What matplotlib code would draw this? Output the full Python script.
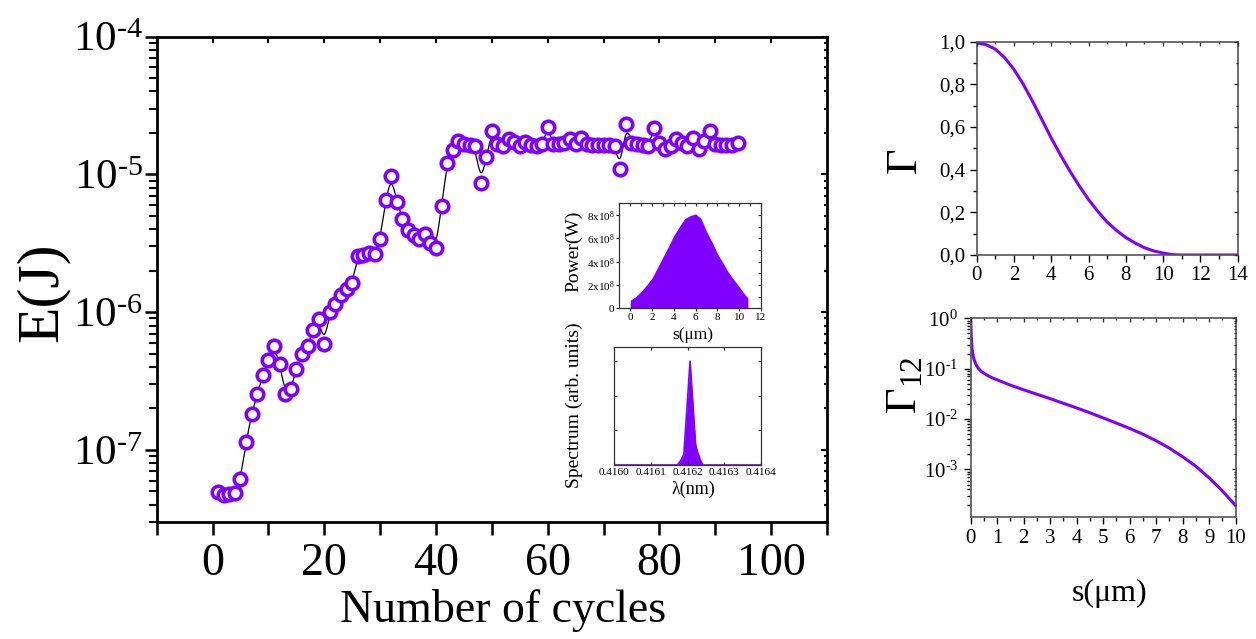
import numpy as np
import matplotlib
matplotlib.use('Agg')
import matplotlib.pyplot as plt
from matplotlib.ticker import FixedLocator, NullFormatter, LogLocator, FuncFormatter, MultipleLocator

plt.rcParams['font.family'] = ['Liberation Serif', 'DejaVu Serif']
plt.rcParams['mathtext.fontset'] = 'custom'
plt.rcParams['mathtext.rm'] = 'Liberation Serif'
plt.rcParams['mathtext.it'] = 'Liberation Serif:italic'
plt.rcParams['mathtext.bf'] = 'Liberation Serif:bold'

PURPLE = '#8000ff'

# ---------------- data ----------------
cycles = list(range(1, 95))
energy = [4.95e-8, 4.74e-8, 4.82e-8, 4.90e-8, 6.18e-8, 1.14e-7, 1.82e-7, 2.54e-7, 3.50e-7, 4.53e-7,
          5.71e-7, 4.24e-7, 2.56e-7, 2.75e-7, 3.84e-7, 4.98e-7, 5.71e-7, 7.38e-7, 8.91e-7, 5.91e-7,
          1.00e-6, 1.15e-6, 1.33e-6, 1.47e-6, 1.62e-6, 2.56e-6, 2.62e-6, 2.71e-6, 2.63e-6, 3.38e-6,
          6.56e-6, 9.77e-6, 6.34e-6, 4.76e-6, 3.92e-6, 3.61e-6, 3.38e-6, 3.72e-6, 3.20e-6, 2.94e-6,
          5.94e-6, 1.21e-5, 1.50e-5, 1.75e-5, 1.65e-5, 1.63e-5, 1.61e-5, 8.65e-6, 1.33e-5, 2.06e-5,
          1.66e-5, 1.61e-5, 1.82e-5, 1.72e-5, 1.61e-5, 1.72e-5, 1.63e-5, 1.61e-5, 1.66e-5, 2.20e-5,
          1.66e-5, 1.66e-5, 1.70e-5, 1.80e-5, 1.66e-5, 1.84e-5, 1.66e-5, 1.63e-5, 1.63e-5, 1.63e-5,
          1.63e-5, 1.61e-5, 1.09e-5, 2.33e-5, 1.70e-5, 1.66e-5, 1.63e-5, 1.61e-5, 2.18e-5, 1.70e-5,
          1.52e-5, 1.61e-5, 1.82e-5, 1.70e-5, 1.62e-5, 1.85e-5, 1.52e-5, 1.75e-5, 2.06e-5, 1.66e-5,
          1.63e-5, 1.63e-5, 1.63e-5, 1.70e-5]

main_xticks = [0, 20, 40, 60, 80, 100]
main_yticks = [1e-7, 1e-6, 1e-5, 1e-4]

gamma_s = [0, 0.5, 1, 1.5, 2, 2.5, 3, 3.5, 4, 4.5, 5, 5.5, 6, 6.5, 7, 7.5, 8, 8.5, 9, 9.5, 10, 10.5, 11, 14]
gamma_v = [0.995, 0.986, 0.965, 0.925, 0.870, 0.800, 0.720, 0.634, 0.548, 0.468, 0.393, 0.324, 0.260,
           0.204, 0.154, 0.115, 0.082, 0.056, 0.034, 0.019, 0.009, 0.0015, 0.0, 0.0]

g12_s = [0, 0.02, 0.05, 0.1, 0.15, 0.2, 0.3, 0.4, 0.6, 0.8, 1.0, 1.5, 2, 2.5, 3, 3.5, 4, 4.5, 5, 5.5,
         6, 6.5, 7, 7.5, 8, 8.5, 9, 9.5, 10]
g12_v = [1.0, 0.45, 0.25, 0.17, 0.14, 0.12, 0.10, 0.088, 0.075, 0.066, 0.060, 0.047, 0.038, 0.031,
         0.0254, 0.0205, 0.0166, 0.0133, 0.0105, 0.0083, 0.0065, 0.0050, 0.0037, 0.00263, 0.00178,
         0.00115, 0.000676, 0.000372, 0.00019]

pow_s = [0, 0.01, 0.5, 1, 1.5, 2, 2.5, 3, 3.5, 4, 4.5, 5, 5.5, 6, 6.5, 7, 7.5, 8, 8.5, 9, 9.5, 10,
         10.5, 10.79, 10.8]
pow_v = [0, 0.7, 1.0, 1.45, 2.0, 2.6, 3.5, 4.4, 5.3, 6.25, 7.0, 7.7, 7.95, 8.1, 7.7, 6.6, 5.7, 4.7,
         3.9, 3.1, 2.45, 1.85, 1.2, 0.9, 0]
pow_ticks = [0, 2, 4, 6, 8]
pow_ticklabels = ['0', '2x10$^8$', '4x10$^8$', '6x10$^8$', '8x10$^8$']

spec_l = [0.41600, 0.416172, 0.41618, 0.41619, 0.416207, 0.416222, 0.416228, 0.416236, 0.416242, 0.41640]
spec_v = [0.0, 0.0, 0.1, 0.3, 3.0, 0.6, 0.35, 0.12, 0.0, 0.0]
spec_xticks = [0.4160, 0.4161, 0.4162, 0.4163, 0.4164]


def bspline(x, y, n_per=14):
    P = np.column_stack([x, y]).astype(float)
    P = np.vstack([P[0], P[0], P, P[-1], P[-1]])
    t = np.linspace(0, 1, n_per, endpoint=False)
    b0 = (1 - t) ** 3 / 6
    b1 = (3 * t ** 3 - 6 * t ** 2 + 4) / 6
    b2 = (-3 * t ** 3 + 3 * t ** 2 + 3 * t + 1) / 6
    b3 = t ** 3 / 6
    segs = []
    for i in range(len(P) - 3):
        segs.append(b0[:, None] * P[i] + b1[:, None] * P[i + 1] + b2[:, None] * P[i + 2] + b3[:, None] * P[i + 3])
    segs.append(P[-1][None])
    return np.vstack(segs)


def pow10_label(v, pos):
    e = int(round(np.log10(v)))
    if e < 0:
        return '10$^{\u2010%d}$' % (-e)
    return '10$^{%d}$' % e


W, H = 1256, 639
fig = plt.figure(figsize=(W / 100, H / 100), dpi=100)


def rect(l, r, t, b):
    return [l / W, 1 - b / H, (r - l) / W, (b - t) / H]


def mirror(ax, xmaj, xmin, ymaj, ymin, logy=False, color='black', length=3, width=1.0):
    tx = ax.twiny()
    tx.set_xlim(ax.get_xlim())
    tx.xaxis.set_major_locator(FixedLocator(xmaj))
    if xmin is not None:
        tx.xaxis.set_minor_locator(FixedLocator(xmin))
    tx.tick_params(axis='x', which='both', direction='in', labeltop=False, length=length, width=width, color=color)
    tx.tick_params(axis='x', which='minor', length=length * 0.6)
    for s in tx.spines.values():
        s.set_visible(False)
    ty = ax.twinx()
    if logy:
        ty.set_yscale('log')
    ty.set_ylim(ax.get_ylim())
    ty.yaxis.set_major_locator(FixedLocator(ymaj))
    if ymin is not None:
        ty.yaxis.set_minor_locator(FixedLocator(ymin))
    else:
        ty.yaxis.set_minor_locator(FixedLocator([]))
    ty.yaxis.set_minor_formatter(NullFormatter())
    ty.tick_params(axis='y', which='both', direction='in', labelright=False, length=length, width=width, color=color)
    ty.tick_params(axis='y', which='minor', length=length * 0.6)
    for s in ty.spines.values():
        s.set_visible(False)


# ---------------- main axes ----------------
ax = fig.add_axes(rect(156.7, 827, 36.6, 522))
ax.set_yscale('log')
ax.set_xlim(-10, 110)
ax.set_ylim(3e-8, 1e-4)
curve = bspline(cycles, np.log10(energy))
ax.plot(curve[:, 0], 10 ** curve[:, 1], color='black', lw=0.9, zorder=2)
ax.plot(cycles, energy, ls='none', marker='o', ms=9, mew=2.6, mec=PURPLE, mfc='white', zorder=3)
ax.xaxis.set_major_locator(FixedLocator(main_xticks))
ax.xaxis.set_minor_locator(MultipleLocator(10))
ax.yaxis.set_major_locator(FixedLocator(main_yticks))
ax.yaxis.set_major_formatter(FuncFormatter(pow10_label))
ax.yaxis.set_minor_locator(LogLocator(base=10, subs=np.arange(2, 10)))
ax.yaxis.set_minor_formatter(NullFormatter())
ax.tick_params(axis='both', which='major', direction='out', length=9, width=1.8, labelsize=33, pad=6)
ax.tick_params(axis='y', which='major', labelsize=31, pad=1)
ax.tick_params(axis='both', which='minor', direction='out', length=6, width=1.5)
ax.tick_params(axis='x', which='minor', length=9, width=1.8)
for s in ax.spines.values():
    s.set_linewidth(2.0)
mirror(ax, main_xticks + [-10, 10, 30, 50, 70, 90, 110], None, main_yticks,
       [m * 10.0 ** e for e in range(-8, -4) for m in range(2, 10)], logy=True, length=4, width=1.5)
fig.text(503 / W, 1 - 610 / H, 'Number of cycles', ha='center', va='center', fontsize=33)
fig.text(43 / W, 1 - 292 / H, 'E(J)', ha='center', va='center', fontsize=43, rotation=90)

# ---------------- Power inset ----------------
axp = fig.add_axes(rect(619.3, 761, 202.7, 308.3))
axp.fill_between(pow_s, pow_v, 0, color=PURPLE, lw=0)
axp.set_xlim(-1, 12)
axp.set_ylim(0, 9.06)
axp.set_xticks(range(0, 13, 2))
axp.set_yticks(pow_ticks)
axp.set_yticklabels(pow_ticklabels)
axp.tick_params(axis='both', which='major', direction='out', length=2.5, width=0.8, labelsize=8, pad=1)
for s in axp.spines.values():
    s.set_linewidth(0.9)
    s.set_color('#333333')
mirror(axp, list(range(-1, 13)), None, [0, 1, 2, 3, 4, 5, 6, 7, 8, 9], None, length=2.5, width=0.8, color='#333333')
fig.text(574 / W, 1 - 251 / H, 'Power(W)', ha='center', va='center', fontsize=14, rotation=90)
fig.text(693 / W, 1 - 335 / H, 's(μm)', ha='center', va='center', fontsize=12.5)

# ---------------- Spectrum inset ----------------
axs = fig.add_axes(rect(614, 761, 347.3, 465))
axs.fill_between(spec_l, spec_v, 0, color=PURPLE, lw=0)
axs.plot(spec_l, spec_v, color=PURPLE, lw=1.2)
axs.set_xlim(0.4160, 0.4164)
axs.set_ylim(0, 3.4)
axs.set_xticks(spec_xticks)
axs.set_xticklabels(['%.4f' % v for v in spec_xticks])
axs.set_yticks([0, 1, 2, 3])
axs.set_yticklabels([])
axs.tick_params(axis='both', which='major', direction='in', length=2.5, width=0.8, labelsize=8, pad=2)
for s in axs.spines.values():
    s.set_linewidth(0.9)
    s.set_color('#333333')
mirror(axs, spec_xticks, None, [0, 1, 2, 3], None, length=2.5, width=0.8, color='#333333')
fig.text(574 / W, 1 - 405 / H, 'Spectrum (arb. units)', ha='center', va='center', fontsize=14, rotation=90)
fig.text(693 / W, 1 - 489 / H, 'λ(nm)', ha='center', va='center', fontsize=13)

# ---------------- Top-right: Gamma ----------------
axg = fig.add_axes(rect(976.7, 1237.7, 41.7, 255))
axg.plot(gamma_s, gamma_v, color=PURPLE, lw=2.2)
axg.set_xlim(0, 14)
axg.set_ylim(0, 1)
axg.set_xticks(range(0, 15, 2))
axg.xaxis.set_minor_locator(MultipleLocator(1))
axg.set_yticks([0, 0.2, 0.4, 0.6, 0.8, 1.0])
axg.yaxis.set_minor_locator(MultipleLocator(0.1))
axg.yaxis.set_major_formatter(FuncFormatter(lambda v, p: ('%.1f' % v).replace('.', ',')))
axg.tick_params(axis='both', which='major', direction='out', length=5, width=1.0, labelsize=15, pad=3)
axg.tick_params(axis='both', which='minor', direction='out', length=3, width=1.0)
for s in axg.spines.values():
    s.set_linewidth(1.2)
    s.set_color('#555555')
mirror(axg, list(range(0, 15, 2)), list(range(1, 15, 2)), [0, 0.2, 0.4, 0.6, 0.8, 1.0],
       [0.1, 0.3, 0.5, 0.7, 0.9], length=3, width=1.0, color='#333333')
fig.text(905 / W, 1 - 160 / H, 'Γ', ha='center', va='center', fontsize=32, rotation=90)

# ---------------- Bottom-right: Gamma12 ----------------
axh = fig.add_axes(rect(970.7, 1235.7, 318.3, 516.7))
axh.set_yscale('log')
axh.plot(g12_s, g12_v, color=PURPLE, lw=2.2)
axh.set_xlim(0, 10)
axh.set_ylim(1.15e-4, 1.0)
axh.set_xticks(range(0, 11))
axh.xaxis.set_minor_locator(MultipleLocator(0.5))
axh.yaxis.set_major_locator(FixedLocator([1e-3, 1e-2, 1e-1, 1.0]))
axh.yaxis.set_major_formatter(FuncFormatter(pow10_label))
axh.yaxis.set_minor_locator(LogLocator(base=10, subs=np.arange(2, 10)))
axh.yaxis.set_minor_formatter(NullFormatter())
axh.tick_params(axis='both', which='major', direction='out', length=5, width=1.0, labelsize=15, pad=4)
axh.tick_params(axis='both', which='minor', direction='out', length=3, width=1.0)
for s in axh.spines.values():
    s.set_linewidth(1.2)
    s.set_color('#555555')
mirror(axh, list(range(0, 11)), [i + 0.5 for i in range(10)], [1e-3, 1e-2, 1e-1, 1.0],
       [m * 10.0 ** e for e in range(-4, 0) for m in range(2, 10)], logy=True, length=3, width=1.0, color='#333333')
fig.text(905 / W, 1 - 385 / H, 'Γ$_{12}$', ha='center', va='center', fontsize=32, rotation=90)
fig.text(1110 / W, 1 - 593 / H, 's(μm)', ha='center', va='center', fontsize=23)

fig.savefig('out.png', dpi=100)
